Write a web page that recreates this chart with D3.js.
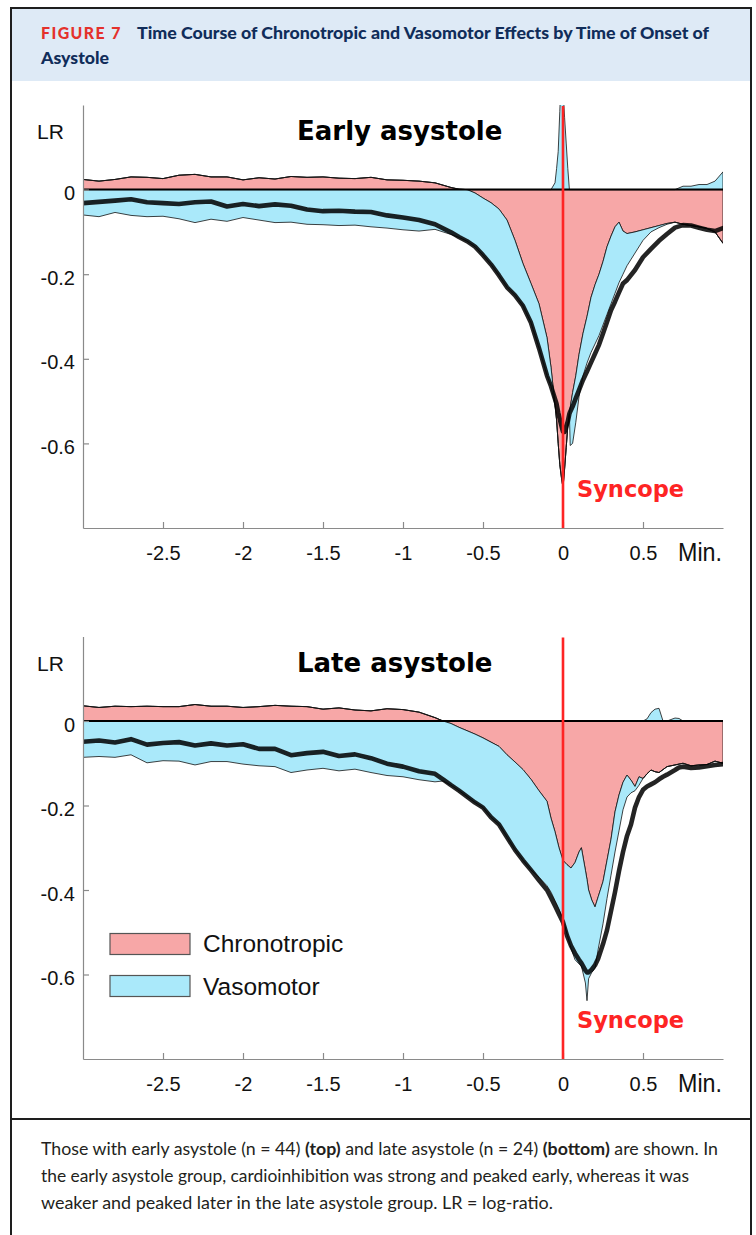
<!DOCTYPE html>
<html><head><meta charset="utf-8">
<script src="https://cdn.jsdelivr.net/npm/d3@7"></script>
<style>
body{margin:0;background:#fff;}
svg{display:block;}
</style></head><body>
<svg id="fig" width="756" height="1235"></svg>
<script>
// ---------------- DATA ----------------
const xTicks = [-2.5, -2, -1.5, -1, -0.5, 0, 0.5];
const yTicks = [0, -0.2, -0.4, -0.6];
const seriesNames = ["Chronotropic", "Vasomotor"];

// Early asystole (n = 44)
const earlyTime = [-3.0,-2.9,-2.8,-2.7,-2.6,-2.5,-2.4,-2.3,-2.2,-2.1,-2.0,-1.9,-1.8,-1.7,-1.6,-1.5,-1.4,-1.3,-1.2,-1.1,-1.0,-0.9,-0.8,-0.7,
  -0.65,-0.6,-0.55,-0.5,-0.45,-0.4,-0.35,-0.3,-0.25,-0.2,-0.15,-0.1,
  -0.075,-0.05,-0.04,-0.03,-0.02,-0.01,0,0.01,0.02,0.03,0.04,0.045,
  0.06,0.08,0.1,0.125,0.15,0.175,0.2,0.225,0.25,0.275,0.3,0.325,0.35,0.375,0.4,
  0.45,0.5,0.55,0.6,0.65,0.7,0.75,0.8,0.85,0.9,0.95,1.0];
const earlyChrono = [0.024,0.020,0.024,0.030,0.029,0.026,0.034,0.036,0.030,0.030,0.023,0.028,0.025,0.031,0.029,0.030,0.027,0.026,0.029,0.023,0.022,0.020,0.016,0.005,
  0.001,0.0,-0.008,-0.02,-0.031,-0.046,-0.072,-0.12,-0.175,-0.222,-0.27,-0.35,
  -0.42,-0.51,-0.545,-0.60,-0.65,-0.68,-0.705,-0.66,-0.61,-0.56,-0.53,-0.515,
  -0.48,-0.44,-0.39,-0.34,-0.30,-0.255,-0.225,-0.20,-0.17,-0.135,-0.11,-0.088,-0.077,-0.098,-0.104,
  -0.10,-0.095,-0.09,-0.085,-0.08,-0.077,-0.082,-0.085,-0.088,-0.092,-0.10,-0.127];
const earlyVaso = [-0.060,-0.064,-0.054,-0.061,-0.064,-0.063,-0.069,-0.078,-0.070,-0.075,-0.066,-0.072,-0.078,-0.077,-0.082,-0.083,-0.085,-0.084,-0.088,-0.091,-0.095,-0.098,-0.094,-0.106,
  -0.113,-0.122,-0.127,-0.135,-0.146,-0.157,-0.159,-0.13,-0.10,-0.093,-0.105,-0.09,
  -0.045,0.016,0.05,0.09,0.185,0.28,0.24,0.17,0.11,0.05,0.0,-0.09,
  -0.12,-0.11,-0.10,-0.10,-0.11,-0.13,-0.14,-0.145,-0.15,-0.16,-0.16,-0.157,-0.143,-0.102,-0.076,
  -0.05,-0.025,-0.01,-0.005,-0.002,0.0,0.008,0.008,0.012,0.012,0.02,0.042];
const earlyTotal = [-0.032,-0.029,-0.026,-0.023,-0.030,-0.032,-0.034,-0.030,-0.028,-0.040,-0.034,-0.039,-0.035,-0.038,-0.047,-0.051,-0.050,-0.052,-0.053,-0.061,-0.066,-0.072,-0.082,-0.101,
  -0.112,-0.122,-0.135,-0.155,-0.177,-0.203,-0.231,-0.25,-0.275,-0.315,-0.375,-0.44,
  -0.465,-0.495,-0.507,-0.527,-0.543,-0.558,-0.572,-0.573,-0.56,-0.548,-0.53,-0.525,
  -0.513,-0.493,-0.474,-0.45,-0.43,-0.409,-0.388,-0.367,-0.34,-0.313,-0.285,-0.265,-0.243,-0.222,-0.214,
  -0.19,-0.16,-0.14,-0.121,-0.105,-0.09,-0.084,-0.085,-0.09,-0.095,-0.098,-0.091];

// Late asystole (n = 24)
const lateTime = [-3.0,-2.9,-2.8,-2.7,-2.6,-2.5,-2.4,-2.3,-2.2,-2.1,-2.0,-1.9,-1.8,-1.7,-1.6,-1.5,-1.4,-1.3,-1.2,-1.1,-1.0,-0.9,-0.8,
  -0.75,-0.7,-0.65,-0.6,-0.55,-0.5,-0.45,-0.4,-0.35,-0.3,-0.25,-0.2,-0.15,-0.1,
  -0.075,-0.05,-0.025,0,0.025,0.05,0.075,0.1,
  0.115,0.14,0.15,0.16,0.18,0.2,0.22,0.25,0.275,0.3,0.325,0.35,0.375,0.4,0.425,0.45,0.475,0.5,
  0.525,0.55,0.575,0.6,0.625,0.65,0.7,0.725,0.75,0.8,0.85,0.9,0.95,1.0];
const lateChrono = [0.036,0.032,0.035,0.034,0.035,0.034,0.034,0.039,0.035,0.035,0.032,0.034,0.037,0.035,0.034,0.028,0.031,0.026,0.024,0.029,0.027,0.021,0.008,
  0.0,-0.006,-0.015,-0.023,-0.031,-0.04,-0.05,-0.06,-0.08,-0.097,-0.115,-0.138,-0.165,-0.19,
  -0.23,-0.262,-0.30,-0.33,-0.34,-0.348,-0.335,-0.31,
  -0.30,-0.353,-0.375,-0.40,-0.424,-0.44,-0.416,-0.38,-0.33,-0.28,-0.215,-0.175,-0.145,-0.128,-0.14,-0.155,-0.132,-0.136,
  -0.125,-0.116,-0.12,-0.122,-0.115,-0.108,-0.104,-0.102,-0.10,-0.106,-0.104,-0.103,-0.095,-0.10];
const lateVaso = [-0.086,-0.084,-0.086,-0.080,-0.099,-0.094,-0.095,-0.104,-0.096,-0.096,-0.102,-0.106,-0.108,-0.122,-0.116,-0.112,-0.118,-0.114,-0.122,-0.129,-0.132,-0.139,-0.144,
  -0.142,-0.146,-0.15,-0.156,-0.162,-0.165,-0.178,-0.185,-0.195,-0.208,-0.215,-0.215,-0.205,-0.20,
  -0.175,-0.163,-0.145,-0.14,-0.165,-0.19,-0.23,-0.265,
  -0.28,-0.267,-0.287,-0.21,-0.171,-0.145,-0.124,-0.10,-0.09,-0.085,-0.095,-0.085,-0.065,-0.052,-0.03,-0.01,-0.02,0.0,
  0.005,0.02,0.028,0.03,0.0,0.0,0.007,0.006,0.0,0.0,0.0,0.0,0.0,0.0];
const lateTotal = [-0.049,-0.046,-0.051,-0.043,-0.056,-0.052,-0.050,-0.058,-0.053,-0.058,-0.055,-0.066,-0.066,-0.081,-0.076,-0.073,-0.083,-0.079,-0.088,-0.101,-0.108,-0.119,-0.125,
  -0.138,-0.152,-0.165,-0.179,-0.193,-0.205,-0.228,-0.245,-0.275,-0.305,-0.33,-0.353,-0.377,-0.40,
  -0.418,-0.437,-0.457,-0.476,-0.508,-0.532,-0.55,-0.565,
  -0.573,-0.59,-0.595,-0.595,-0.588,-0.578,-0.562,-0.528,-0.495,-0.45,-0.405,-0.355,-0.31,-0.272,-0.245,-0.205,-0.18,-0.163,
  -0.155,-0.15,-0.145,-0.138,-0.132,-0.127,-0.116,-0.11,-0.108,-0.111,-0.11,-0.107,-0.104,-0.102];

// ---------------- DRAWING ----------------
const PINK = "#f7a7a7", BLUE = "#aae9fa", RED = "#fe2424";
const svg = d3.select("#fig");

// figure frame and header band
svg.append("rect").attr("x", 12).attr("y", 9).attr("width", 738).attr("height", 72).attr("fill", "#deeaf6");
svg.append("rect").attr("x", 11).attr("y", 8).attr("width", 740).attr("height", 1240)
  .attr("fill", "none").attr("stroke", "#1e1e1e").attr("stroke-width", 2);
svg.append("line").attr("x1", 11).attr("x2", 751).attr("y1", 1119).attr("y2", 1119)
  .attr("stroke", "#1e1e1e").attr("stroke-width", 2);

const headFont = "Lato, Roboto, sans-serif";
svg.append("text").attr("x", 41).attr("y", 39).attr("font-family", headFont).attr("font-weight", 900)
  .attr("font-size", 16.5).attr("fill", "#e4312b").attr("letter-spacing", 1.5)
  .attr("textLength", 81).attr("lengthAdjust", "spacingAndGlyphs").text("FIGURE 7");
svg.append("text").attr("x", 137).attr("y", 39).attr("font-family", headFont).attr("font-weight", 900)
  .attr("font-size", 16.5).attr("fill", "#102d5a")
  .attr("textLength", 572).attr("lengthAdjust", "spacingAndGlyphs")
  .text("Time Course of Chronotropic and Vasomotor Effects by Time of Onset of");
svg.append("text").attr("x", 41).attr("y", 63.5).attr("font-family", headFont).attr("font-weight", 900)
  .attr("font-size", 16.5).attr("fill", "#102d5a")
  .attr("textLength", 68).attr("lengthAdjust", "spacingAndGlyphs").text("Asystole");

const x = d3.scaleLinear().domain([-3, 1]).range([83, 723]);

function panel(o) {
  const y = d3.scaleLinear().domain([-0.8, 0.2]).range([o.bottom, o.top]);
  const rows = o.time.map((t, i) => ({ t, c: o.chrono[i], v: o.vaso[i], tot: o.total[i] }));

  svg.append("clipPath").attr("id", o.id).append("rect")
    .attr("x", x.range()[0]).attr("y", o.top).attr("width", x.range()[1] - x.range()[0])
    .attr("height", o.bottom - o.top);
  const g = svg.append("g").attr("clip-path", `url(#${o.id})`);

  const chronoArea = d3.area().x(d => x(d.t)).y0(y(0)).y1(d => y(d.c));
  // diverging stacking: vasomotor stacked beyond the chronotropic band on the same side of zero
  const vasoNeg = d3.area().x(d => x(d.t))
    .y0(d => y(Math.min(d.c, 0))).y1(d => y(Math.min(d.c, 0) + Math.min(d.v, 0)));
  const vasoPos = d3.area().x(d => x(d.t))
    .y0(d => y(Math.max(d.c, 0))).y1(d => y(Math.max(d.c, 0) + Math.max(d.v, 0)));

  const edge = sel => sel.attr("stroke", "#111").attr("stroke-width", 0.8).attr("stroke-linejoin", "round");
  g.append("path").datum(rows).attr("d", chronoArea).attr("fill", PINK).call(edge);
  g.append("path").datum(rows).attr("d", vasoNeg).attr("fill", BLUE).call(edge);
  g.append("path").datum(rows).attr("d", vasoPos).attr("fill", BLUE).call(edge);

  g.append("path").datum(rows)
    .attr("d", d3.line().x(d => x(d.t)).y(d => y(d.tot)))
    .attr("fill", "none").attr("stroke", "#000").attr("stroke-opacity", 0.86)
    .attr("stroke-width", 4.6).attr("stroke-linejoin", "round").attr("stroke-linecap", "round");

  // zero line
  svg.append("line").attr("x1", x(-3)).attr("x2", x(1)).attr("y1", y(0)).attr("y2", y(0))
    .attr("stroke", "#000").attr("stroke-width", 2);

  // axes
  const yAxis = d3.axisLeft(y).tickValues(yTicks).tickSizeInner(-6).tickSizeOuter(0).tickPadding(8)
    .tickFormat(d => String(d));
  const ya = svg.append("g").attr("transform", `translate(${x(-3)},0)`).call(yAxis);
  const xAxis = d3.axisBottom(x).tickValues(xTicks).tickSizeInner(-6).tickSizeOuter(0)
    .tickFormat(d => String(d));
  const xa = svg.append("g").attr("transform", `translate(0,${y(-0.8)})`).call(xAxis);
  [ya, xa].forEach(a => {
    a.select(".domain").attr("stroke", "#8a8a8a").attr("stroke-width", 1.2);
    a.selectAll(".tick line").attr("stroke", "#8a8a8a").attr("stroke-width", 1.2);
    a.selectAll("text").attr("font-family", "'Liberation Sans', Arial, sans-serif")
      .attr("font-size", 20).attr("fill", "#111");
  });
  ya.selectAll("text").attr("dy", "0.5em");
  xa.selectAll("text").attr("y", 32).attr("dy", 0);

  // syncope marker
  svg.append("line").attr("x1", x(0)).attr("x2", x(0)).attr("y1", y(0.2) + 1).attr("y2", y(-0.8))
    .attr("stroke", RED).attr("stroke-width", 2.6);
  svg.append("text").attr("x", 577).attr("y", y(-0.8) - 31)
    .attr("font-family", "'DejaVu Sans', Verdana, sans-serif").attr("font-weight", "bold")
    .attr("font-size", 22.5).attr("fill", RED).text("Syncope");

  svg.append("text").attr("x", 37).attr("y", o.top + 34)
    .attr("font-family", "'Liberation Sans', Arial, sans-serif").attr("font-size", 21).attr("fill", "#111").text("LR");
  svg.append("text").attr("x", 297).attr("y", o.top + 35)
    .attr("font-family", "'DejaVu Sans', Verdana, sans-serif").attr("font-weight", "bold")
    .attr("font-size", 26).attr("fill", "#000").text(o.title);
  svg.append("text").attr("x", 678).attr("y", y(-0.8) + 33)
    .attr("font-family", "'Liberation Sans', Arial, sans-serif").attr("font-size", 26).attr("fill", "#111")
    .attr("textLength", 44).attr("lengthAdjust", "spacingAndGlyphs").text("Min.");
  return y;
}

panel({ id: "clipEarly", top: 105, bottom: 528, title: "Early asystole",
  time: earlyTime, chrono: earlyChrono, vaso: earlyVaso, total: earlyTotal });
panel({ id: "clipLate", top: 636.5, bottom: 1059, title: "Late asystole",
  time: lateTime, chrono: lateChrono, vaso: lateVaso, total: lateTotal });

// legend
const legendColors = [PINK, BLUE];
seriesNames.forEach((name, i) => {
  svg.append("rect").attr("x", 110).attr("y", 933.5 + i * 42).attr("width", 80).attr("height", 21)
    .attr("fill", legendColors[i]).attr("stroke", "#555").attr("stroke-width", 1.2);
  svg.append("text").attr("x", 203).attr("y", 952 + i * 42.5)
    .attr("font-family", "'Liberation Sans', Arial, sans-serif").attr("font-size", 24.5).attr("fill", "#111").text(name);
});

// caption
const capFont = "Lato, Roboto, sans-serif";
const capLines = [
  { y: 1155, w: 677, parts: [["Those with early asystole (n = 44) ", 0], ["(top)", 1], [" and late asystole (n = 24) ", 0], ["(bottom)", 1], [" are shown. In", 0]] },
  { y: 1182, w: 648, parts: [["the early asystole group, cardioinhibition was strong and peaked early, whereas it was", 0]] },
  { y: 1208.5, w: 512, parts: [["weaker and peaked later in the late asystole group. LR = log-ratio.", 0]] }
];
capLines.forEach(l => {
  const t = svg.append("text").attr("x", 41).attr("y", l.y).attr("font-family", capFont)
    .attr("font-size", 17).attr("fill", "#231f20")
    .attr("textLength", l.w).attr("lengthAdjust", "spacingAndGlyphs");
  l.parts.forEach(p => t.append("tspan").attr("font-weight", p[1] ? "bold" : "normal").text(p[0]));
});
</script>
</body></html>
